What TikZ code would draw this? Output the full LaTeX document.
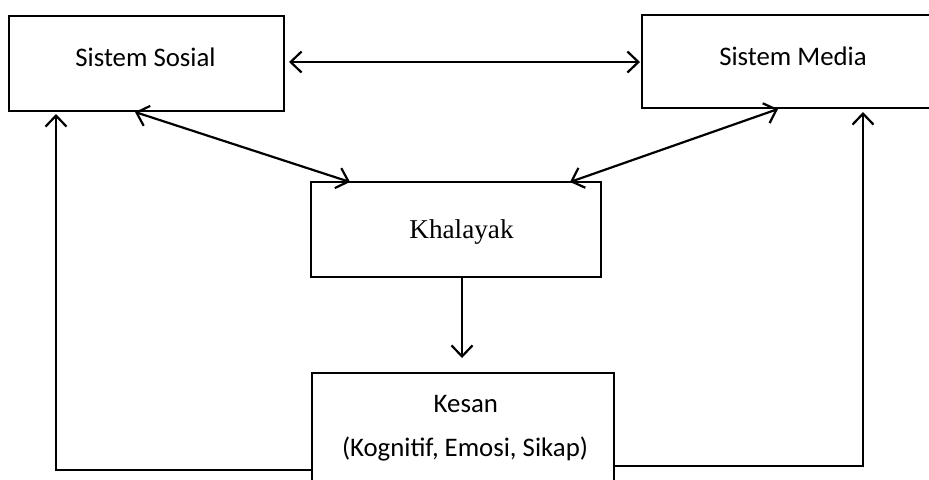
\documentclass[tikz,border=0pt]{standalone}
\usepackage{fontspec}
\setmainfont{Carlito}
\newfontfamily\serifface{Liberation Serif}
\usetikzlibrary{arrows.meta,calc}
\begin{document}
\begin{tikzpicture}[x=0.5pt,y=-0.5pt,
  box/.style={draw=black,line width=0.75pt,rectangle,inner sep=0pt,outer sep=0pt},
  lbl/.style={anchor=base,inner sep=0pt,font=\fontsize{13.4}{16}\selectfont},
  conn/.style={draw=black,line width=1.1pt,-{Straight Barb[length=5.5pt,width=10.5pt,line width=1.1pt]}},
  dbl/.style={draw=black,line width=1.1pt,{Straight Barb[length=5.5pt,width=10.5pt,line width=1.1pt]}-{Straight Barb[length=5.5pt,width=10.5pt,line width=1.1pt]}}]
\useasboundingbox (0,0) rectangle (929,479);
\begin{scope}
\clip (0,0) rectangle (929,479);
% boxes
\node[box,minimum width=137.5pt,minimum height=47.5pt] (sosial) at (146.5,63.5) {};
\node[box,minimum width=159pt,minimum height=46.5pt] (media) at (801,61.5) {};
\node[box,minimum width=145pt,minimum height=47.5pt] (khalayak) at (456,229.5) {};
\node[box,minimum width=151pt,minimum height=63.5pt] (kesan) at (463,436.5) {};
\end{scope}
% labels
\node[lbl] (sosialtxt) at (145.5,66.7) {Sistem Sosial};
\node[lbl] (mediatxt) at (793,65.7) {Sistem Media};
\node[lbl,font=\serifface\fontsize{13.6}{16}\selectfont] (khalayaktxt) at (461.5,238.3) {Khalayak};
\node[lbl] (kesantxt) at (465.8,412) {Kesan};
\node[lbl] (kesansub) at (465,456) {(Kognitif, Emosi, Sikap)};
% connectors
\draw[dbl] ($(sosial.east)+(5,-1.5)$) -- ($(media.west)+(-2,0.5)$);
\draw[dbl] ($(sosial.south west)+(126,1)$) -- ($(khalayak.north west)+(39,0)$);
\draw[dbl] ($(khalayak.north east)+(-31,0)$) -- ($(media.south west)+(136,1)$);
\draw[conn] ($(khalayak.south)+(6,0)$) -- ($(kesan.north)+(-1,-15)$);
\draw[conn] ($(kesan.north west)+(0,97)$) -| ($(sosial.south west)+(47,3)$);
\draw[conn] ($(kesan.north east)+(0,93)$) -| ($(media.south west)+(221,4)$);
\end{tikzpicture}
\end{document}
